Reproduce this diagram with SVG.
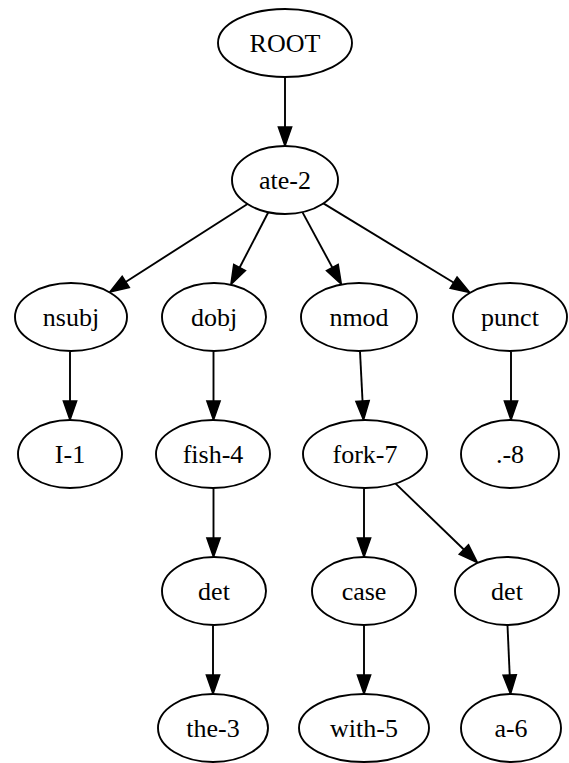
<svg xmlns="http://www.w3.org/2000/svg" width="569" height="763" viewBox="0 0 569 763">
<style>
.n ellipse{fill:#fff;stroke:#000;stroke-width:1.9}
.n text{font-size:26px;text-anchor:middle;fill:#000}
#edges line{stroke:#000;stroke-width:1.9;fill:none;marker-end:url(#ah)}
</style>
<defs>
<marker id="ah" markerUnits="userSpaceOnUse" markerWidth="22" markerHeight="16" refX="9" refY="6.65" orient="auto" overflow="visible">
<path d="M0,0 L19,6.65 L0,13.3 Z" fill="#000" stroke="#000" stroke-width="1.5" stroke-linejoin="miter"/>
</marker>
</defs>
<rect width="569" height="763" fill="#fff"/>
<g id="edges">
<line x1="285" y1="77" x2="285" y2="136"/>
<line x1="247.5" y1="204" x2="118.2" y2="286.7"/>
<line x1="268.3" y1="212.3" x2="235.5" y2="275.5"/>
<line x1="302.4" y1="212.1" x2="336.6" y2="275.4"/>
<line x1="323.4" y1="203.4" x2="461.3" y2="287.3"/>
<line x1="70" y1="351.5" x2="70" y2="410"/>
<line x1="213.5" y1="351.5" x2="213.5" y2="410"/>
<line x1="360" y1="351.5" x2="363" y2="410"/>
<line x1="511" y1="351.5" x2="511" y2="410"/>
<line x1="213.5" y1="488.5" x2="213.5" y2="547"/>
<line x1="364" y1="488.5" x2="364" y2="547"/>
<line x1="395.6" y1="483.6" x2="470.3" y2="555.7"/>
<line x1="213" y1="625.5" x2="213" y2="684"/>
<line x1="364" y1="625.5" x2="364" y2="684"/>
<line x1="507.5" y1="625.5" x2="510.1" y2="684"/>
</g>
<g font-family="'Liberation Serif', 'Times New Roman', Times, serif">
<g id="root" class="n"><ellipse cx="285" cy="43" rx="67" ry="34"/><text x="285" y="52">ROOT</text></g>
<g id="ate2" class="n"><ellipse cx="285" cy="180" rx="53" ry="34"/><text x="285" y="189">ate-2</text></g>
<g id="nsubj" class="n"><ellipse cx="71" cy="317" rx="56" ry="34"/><text x="71" y="326">nsubj</text></g>
<g id="dobj" class="n"><ellipse cx="214" cy="317" rx="52" ry="34"/><text x="214" y="326">dobj</text></g>
<g id="nmod" class="n"><ellipse cx="359" cy="317" rx="58" ry="34"/><text x="359" y="326">nmod</text></g>
<g id="punct" class="n"><ellipse cx="510" cy="317" rx="57" ry="34"/><text x="510" y="326">punct</text></g>
<g id="i1" class="n"><ellipse cx="70" cy="454" rx="52" ry="34"/><text x="70" y="463">I-1</text></g>
<g id="fish4" class="n"><ellipse cx="213" cy="454" rx="57" ry="34"/><text x="213" y="463">fish-4</text></g>
<g id="fork7" class="n"><ellipse cx="365" cy="454" rx="62" ry="34"/><text x="365" y="463">fork-7</text></g>
<g id="p8" class="n"><ellipse cx="510" cy="454" rx="49" ry="34"/><text x="510" y="463">.-8</text></g>
<g id="det1" class="n"><ellipse cx="214" cy="591" rx="52" ry="34"/><text x="214" y="600">det</text></g>
<g id="case" class="n"><ellipse cx="364" cy="591" rx="52" ry="34"/><text x="364" y="600">case</text></g>
<g id="det2" class="n"><ellipse cx="507" cy="591" rx="52" ry="34"/><text x="507" y="600">det</text></g>
<g id="the3" class="n"><ellipse cx="213" cy="728" rx="55" ry="34"/><text x="213" y="737">the-3</text></g>
<g id="with5" class="n"><ellipse cx="364" cy="728" rx="65" ry="34"/><text x="364" y="737">with-5</text></g>
<g id="a6" class="n"><ellipse cx="511" cy="728" rx="50" ry="34"/><text x="511" y="737">a-6</text></g>
</g>
</svg>
